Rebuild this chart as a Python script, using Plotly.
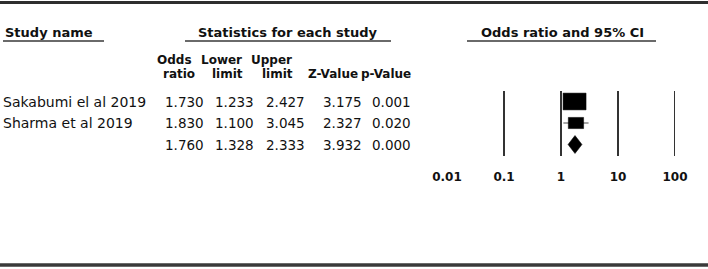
import numpy as np
import plotly.graph_objects as go

# ---------------- data ----------------
studies = ["Sakabumi el al 2019", "Sharma et al 2019"]
odds_ratio = [1.730, 1.830]
lower_limit = [1.233, 1.100]
upper_limit = [2.427, 3.045]
z_value = [3.175, 2.327]
p_value = [0.001, 0.020]

pooled_or = 1.760
pooled_lower = 1.328
pooled_upper = 2.333
pooled_z = 3.932
pooled_p = 0.000

axis_tick_values = [0.01, 0.1, 1, 10, 100]
axis_tick_labels = ["0.01", "0.1", "1", "10", "100"]
reference_lines = [0.1, 1, 10, 100]

# ---------------- layout constants (pixels) ----------------
W, H = 708, 269
PLOT_H = 168                 # plot area height (tick labels below)
ROW0_PX, ROW_STEP = 101.5, 21.5
FOREST_L, FOREST_R = 447, 675
DEC_PX = (FOREST_R - FOREST_L) / 4.0
FONT = "DejaVu Sans"
COL_RIGHT = [206, 256, 307, 364, 413]
BOX_K = 3.97                 # px per sqrt(weight)
BOX_ASPECT = 0.73
DIAMOND_HALF_PX = 9.0


def paper_y(px):
    return 1 - px / PLOT_H


def row_of_px(px):
    return (px - ROW0_PX) / ROW_STEP


fig = go.Figure()

# ---- study boxes and CI lines ----
for i, (orv, lo, hi) in enumerate(zip(odds_ratio, lower_limit, upper_limit)):
    se = (np.log(hi) - np.log(lo)) / 3.92
    weight = 1 / se ** 2
    wpx = BOX_K * np.sqrt(weight)
    hpx = wpx * BOX_ASPECT
    cx = np.log10(orv)
    hw = wpx / 2 / DEC_PX
    hh = hpx / 2 / ROW_STEP
    fig.add_trace(go.Scatter(
        x=[np.log10(lo), np.log10(hi)], y=[i, i], xaxis="x2", yaxis="y",
        mode="lines", line=dict(color="#8a8a8a", width=1.5),
        showlegend=False, hoverinfo="skip"))
    fig.add_trace(go.Scatter(
        x=[cx - hw, cx + hw, cx + hw, cx - hw, cx - hw],
        y=[i - hh, i - hh, i + hh, i + hh, i - hh],
        xaxis="x2", yaxis="y", mode="lines", fill="toself",
        fillcolor="black", line=dict(color="black", width=0.5),
        showlegend=False, hoverinfo="skip"))

# ---- pooled diamond ----
pr = len(studies)
dh = DIAMOND_HALF_PX / ROW_STEP
fig.add_trace(go.Scatter(
    x=[np.log10(pooled_lower), np.log10(pooled_or), np.log10(pooled_upper),
       np.log10(pooled_or), np.log10(pooled_lower)],
    y=[pr, pr - dh, pr, pr + dh, pr],
    xaxis="x2", yaxis="y", mode="lines", fill="toself",
    fillcolor="black", line=dict(color="black", width=0.5),
    showlegend=False, hoverinfo="skip"))

# ---- annotations (table) ----
ann = []
name_font = dict(family=FONT, size=14, color="#111111")
txt_font = dict(family=FONT, size=13.5, color="#111111")
bold_font = dict(family=FONT, size=13, color="#111111")
hdr_font = dict(family=FONT, size=12, color="#111111")

rows = [(s, o, l, u, z, p) for s, o, l, u, z, p in
        zip(studies, odds_ratio, lower_limit, upper_limit, z_value, p_value)]
rows.append(("", pooled_or, pooled_lower, pooled_upper, pooled_z, pooled_p))

for r, (name, o, l, u, z, p) in enumerate(rows):
    if name:
        ann.append(dict(x=1, y=r, xref="x", yref="y", text=name,
                        xanchor="left", yanchor="middle", showarrow=False,
                        font=name_font))
    for c, v in enumerate([o, l, u, z, p]):
        ann.append(dict(x=COL_RIGHT[c], y=r, xref="x", yref="y",
                        text=f"{v:.3f}", xanchor="right", yanchor="middle",
                        showarrow=False, font=txt_font))

# section headers
for text, xc, anchor in [("<b>Study name</b>", 3, "left"),
                         ("<b>Statistics for each study</b>", 288, "center"),
                         ("<b>Odds ratio and 95% CI</b>", 562, "center")]:
    ann.append(dict(x=xc, y=paper_y(33), xref="x", yref="paper", text=text,
                    xanchor=anchor, yanchor="middle", showarrow=False,
                    font=bold_font))

# column headers
col_hdr = [("<b>Odds</b>", 155, 60), ("<b>Lower</b>", 199, 60),
           ("<b>Upper</b>", 249, 60), ("<b>ratio</b>", 161, 74),
           ("<b>limit</b>", 210, 74), ("<b>limit</b>", 260, 74)]
for text, xl, ypx in col_hdr:
    ann.append(dict(x=xl, y=paper_y(ypx), xref="x", yref="paper", text=text,
                    xanchor="left", yanchor="middle", showarrow=False,
                    font=hdr_font))
ann.append(dict(x=359, y=paper_y(74), xref="x", yref="paper",
                text="<b>Z-Value</b>", xanchor="right", yanchor="middle",
                showarrow=False, font=hdr_font, borderpad=0))
ann.append(dict(x=412, y=paper_y(74), xref="x", yref="paper",
                text="<b>p-Value</b>", xanchor="right", yanchor="middle",
                showarrow=False, font=hdr_font, borderpad=0))

# ---- shapes ----
shapes = []
shapes.append(dict(type="line", xref="paper", yref="paper", x0=0, x1=1,
                   y0=paper_y(2.5), y1=paper_y(2.5),
                   line=dict(color="#2e2e2e", width=3)))
shapes.append(dict(type="line", xref="paper", yref="paper", x0=0, x1=1,
                   y0=paper_y(265), y1=paper_y(265),
                   line=dict(color="#3a3a3a", width=3.5)))
for x0, x1 in [(3, 104), (185, 391), (467, 656)]:
    shapes.append(dict(type="line", xref="x", yref="paper", x0=x0, x1=x1,
                       y0=paper_y(41), y1=paper_y(41),
                       line=dict(color="#6a6a6a", width=2)))
for v in reference_lines:
    shapes.append(dict(type="line", xref="x2", yref="y",
                       x0=np.log10(v), x1=np.log10(v),
                       y0=row_of_px(91), y1=row_of_px(156),
                       line=dict(color="#333333", width=2)))

fig.update_layout(
    template="none",
    width=W, height=H,
    margin=dict(l=0, r=0, t=0, b=H - PLOT_H, pad=0, autoexpand=False),
    paper_bgcolor="white", plot_bgcolor="white",
    showlegend=False,
    xaxis=dict(domain=[0, 1], range=[0, W], visible=False, fixedrange=True,
               automargin=False),
    xaxis2=dict(domain=[FOREST_L / W, FOREST_R / W], range=[-2, 2],
                anchor="y", tickmode="array", automargin=False,
                tickvals=[np.log10(v) for v in axis_tick_values],
                ticktext=[f"<b>{t}</b>" for t in axis_tick_labels],
                tickfont=dict(family=FONT, size=12, color="#111111"),
                showgrid=False, zeroline=False, showline=False, ticks="",
                fixedrange=True),
    yaxis=dict(domain=[0, 1], range=[row_of_px(PLOT_H), row_of_px(0)],
               visible=False, fixedrange=True, automargin=False),
    annotations=ann, shapes=shapes,
)

fig.write_html("out.html",
               config={"displayModeBar": False},
               post_script="document.body.style.margin='0';"
                           "document.body.style.overflow='hidden';")
